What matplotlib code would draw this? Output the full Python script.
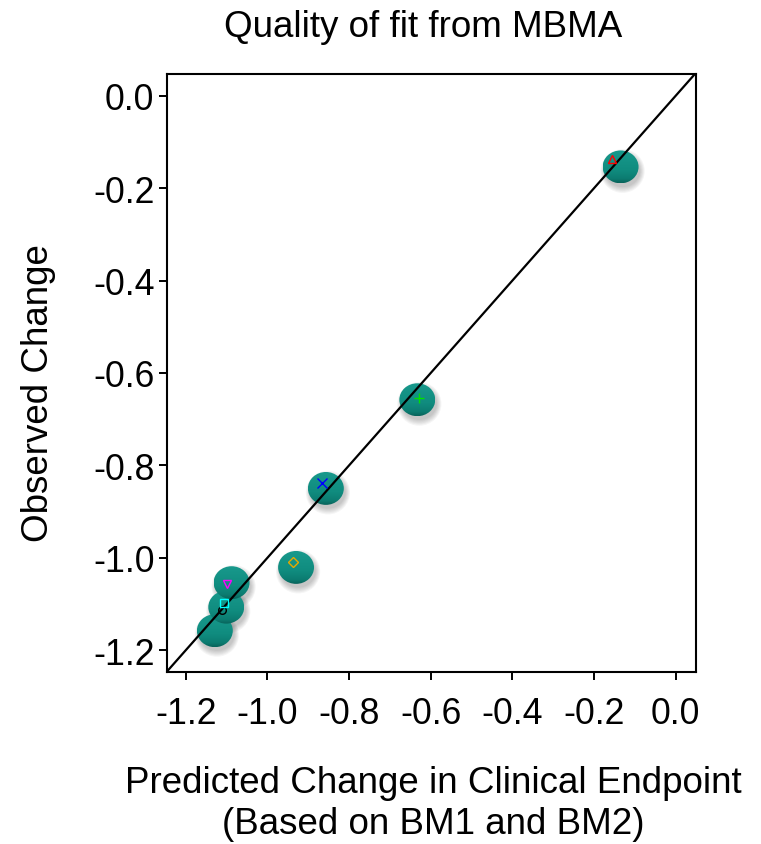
import matplotlib
matplotlib.use("Agg")
import numpy as np
import matplotlib.pyplot as plt
from matplotlib.patches import Ellipse
from matplotlib.colors import LinearSegmentedColormap

plt.rcParams["font.family"] = ["Liberation Sans", "DejaVu Sans"]
plt.rcParams["axes.unicode_minus"] = False

# symbols (predicted vs observed change)
predicted = [-1.112, -0.156, -0.628, -0.867, -1.106, -1.098, -0.937]
observed = [-1.113, -0.137, -0.655, -0.839, -1.097, -1.056, -1.009]
symbols = ["o", "^", "+", "x", "s", "v", "D"]
symbol_colors = ["black", "red", "#00e000", "blue", "cyan", "magenta", "#e6a800"]

# teal bubbles behind the symbols
bubble_x = [-1.129, -0.135, -0.633, -0.857, -1.101, -1.088, -0.930]
bubble_y = [-1.158, -0.154, -0.658, -0.850, -1.107, -1.054, -1.021]

ticks = [-1.2, -1.0, -0.8, -0.6, -0.4, -0.2, 0.0]
tick_labels = ["-1.2", "-1.0", "-0.8", "-0.6", "-0.4", "-0.2", "0.0"]

fig = plt.figure(figsize=(7.61, 8.45), dpi=100)
ax = fig.add_axes([0.2190, 0.2032, 0.6952, 0.7080])
xlim = (-1.247, 0.049)
ylim = (-1.248, 0.047)

teal = LinearSegmentedColormap.from_list(
    "teal", [(0.0, "#18998c"), (0.6, "#108c7f"), (0.87, "#0c7c71"), (1.0, "#08645b")])
grad = np.linspace(0, 1, 64).reshape(-1, 1)

# bubble size in data units (about 36 x 33 px)
bw, bh = 0.0880, 0.0712
for bx, by in zip(bubble_x, bubble_y):
    # soft shadow, down and to the right
    for k in range(6):
        ax.add_patch(Ellipse((bx + 0.005, by - 0.009), bw * (0.98 + 0.05 * k), bh * (0.98 + 0.07 * k),
                             facecolor="black", edgecolor="none", alpha=0.04, zorder=1))
    clip = Ellipse((bx, by), bw, bh, facecolor="none", edgecolor="none", zorder=2)
    ax.add_patch(clip)
    im = ax.imshow(grad, cmap=teal, aspect="auto", interpolation="bilinear",
                   extent=(bx - bw / 2, bx + bw / 2, by - bh / 2, by + bh / 2), zorder=2)
    im.set_clip_path(clip)

# line of identity
ax.plot(xlim, xlim, color="black", lw=1.6, zorder=3)

for px, ob, m, c in zip(predicted, observed, symbols, symbol_colors):
    ms = 6.5 if m in ("+", "x") else 5.5
    ax.plot(px, ob, marker=m, ms=ms, mfc="none", mec=c, mew=1.0, ls="none", zorder=4)

ax.set_xlim(*xlim)
ax.set_ylim(*ylim)
ax.set_xticks(ticks)
ax.set_xticklabels(tick_labels)
ax.set_yticks(ticks)
ax.set_yticklabels(tick_labels)
ax.tick_params(direction="out", length=5.8, width=1.4, labelsize=25.7, color="black")
ax.tick_params(axis="x", pad=11)
ax.tick_params(axis="y", pad=3)
for sp in ax.spines.values():
    sp.set_linewidth(1.5)

fig.text(0.5565, 0.968, "Quality of fit from MBMA", ha="center", va="center", fontsize=26.5)
fig.text(0.569, 0.0485, "Predicted Change in Clinical Endpoint\n(Based on BM1 and BM2)",
         ha="center", va="center", fontsize=26.5, linespacing=1.2)
fig.text(0.050, 0.535, "Observed Change", ha="center", va="center", rotation=90, fontsize=26.5)

fig.savefig("out.png", dpi=100)
